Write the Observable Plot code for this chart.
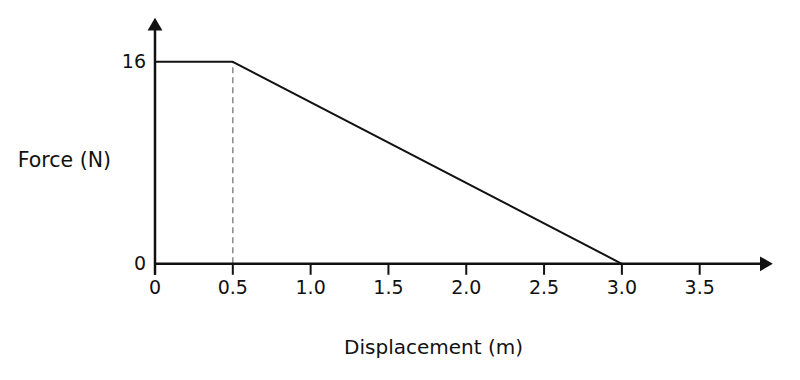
<!DOCTYPE html>
<html>
<head>
<meta charset="utf-8">
<script src="https://cdn.jsdelivr.net/npm/d3@7"></script>
<script src="https://cdn.jsdelivr.net/npm/@observablehq/plot@0.6"></script>
<style>
  html, body { margin: 0; padding: 0; background: #fff; }
  svg { display: block; overflow: visible; }
</style>
</head>
<body>
<div id="chart"></div>
<script>
// Data
const displacement = [0, 0.5, 3.0];
const force = [16, 16, 0];
const xTicks = [0, 0.5, 1.0, 1.5, 2.0, 2.5, 3.0, 3.5];
const xTickLabels = ["0", "0.5", "1.0", "1.5", "2.0", "2.5", "3.0", "3.5"];
const yTicks = [0, 16];
const xLabel = "Displacement (m)";
const yLabel = "Force (N)";

const xMax = 3.955; // end of axis arrow
const yMax = 19.27; // end of axis arrow
const tickLen = 0.87; // tick length below the axis, in force units

const pts = displacement.map((d, i) => ({x: d, y: force[i]}));
const tickRows = xTicks.map(t => ({x: t, y1: -tickLen, y2: 0}));

const chart = Plot.plot({
  width: 800,
  height: 380,
  marginLeft: 154.5,
  marginRight: 30,
  marginTop: 20,
  marginBottom: 116.7,
  style: {fontFamily: "DejaVu Sans", fontSize: "19px", color: "#111", background: "#fff", overflow: "visible"},
  x: {domain: [0, xMax]},
  y: {domain: [0, yMax]},
  marks: [
    Plot.axisX({
      ticks: xTicks,
      tickFormat: (d) => xTickLabels[xTicks.indexOf(d)],
      tickSize: 0,
      tickPadding: 17,
      label: null,
      fontSize: 19
    }),
    Plot.axisY({ticks: yTicks, tickSize: 0, tickPadding: 9, label: null, fontSize: 19}),
    // tick marks below the x axis
    Plot.link(tickRows, {x1: "x", x2: "x", y1: "y1", y2: "y2", stroke: "#111", strokeWidth: 2}),
    // dashed guide
    Plot.ruleX([pts[1]], {x: "x", y1: 0, y2: "y", stroke: "#888", strokeWidth: 1.5, strokeDasharray: "6,4"}),
    // axes lines with arrowheads
    Plot.ruleY([0], {x1: 0, x2: xMax - 0.05, stroke: "#111", strokeWidth: 2.5}),
    Plot.link([{x: 0, y1: -tickLen, y2: yMax - 0.6}], {x1: "x", x2: "x", y1: "y1", y2: "y2", stroke: "#111", strokeWidth: 2.5}),
    Plot.dot([{x: xMax - 0.04, y: 0}], {x: "x", y: "y", symbol: "triangle", r: 5.5, fill: "#111", stroke: null, rotate: 90}),
    Plot.dot([{x: 0, y: yMax - 0.45}], {x: "x", y: "y", symbol: "triangle", r: 5.5, fill: "#111", stroke: null}),
    // data line
    Plot.line(pts, {x: "x", y: "y", stroke: "#111", strokeWidth: 2}),
    // axis titles
    Plot.text([yLabel], {x: 0, y: 8.2, dx: -44, text: d => d, textAnchor: "end", fontSize: 20.5, fill: "#111"}),
    Plot.text([xLabel], {x: 1.79, y: 0, dy: 84, text: d => d, fontSize: 20, fill: "#111"})
  ]
});
document.getElementById("chart").appendChild(chart);
</script>
</body>
</html>
